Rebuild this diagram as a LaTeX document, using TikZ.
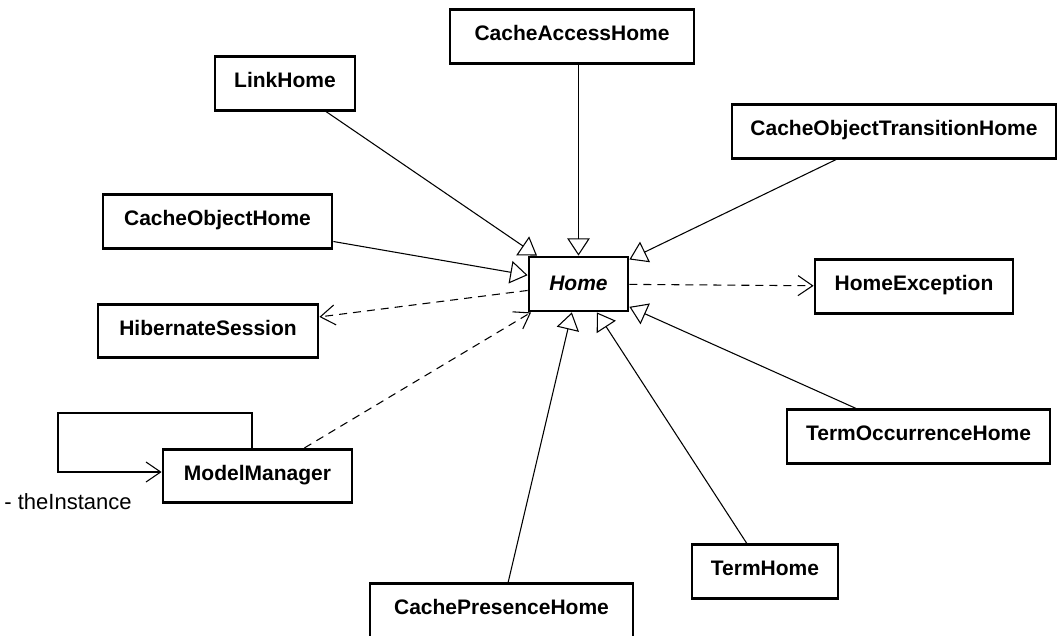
\documentclass[tikz,border=0pt]{standalone}
\usepackage{fontspec}
\setmainfont{Liberation Sans}
\usetikzlibrary{arrows.meta}
\begin{document}
\begin{tikzpicture}[x=0.75pt,y=-0.75pt,
  cls/.style={draw, line width=2.1pt, fill=white, inner xsep=0pt, inner ysep=0pt,
    font=\fontsize{15.75}{18}\selectfont\bfseries, text height=23pt, text depth=17pt},
  w/.style={minimum width=#1*0.75pt},
  gen/.style={line width=0.8pt, -{Triangle[open, length=13pt, width=17pt]}},
  dep/.style={line width=0.8pt, dash pattern=on 6pt off 4.5pt, -{Straight Barb[length=11pt, width=15pt]}},
  assoc/.style={line width=0.8pt, -{Straight Barb[length=11pt, width=15pt]}},
  rolelabel/.style={font=\fontsize{16.5}{19}\selectfont}
]
\useasboundingbox (0,0) rectangle (1059,635);

% classes
\node[cls, w=244] (cah) at (572,36.5) {CacheAccessHome};
\node[cls, w=140] (link) at (285,83.5) {LinkHome};
\node[cls, w=324] (coth) at (894,131.5) {CacheObjectTransitionHome};
\node[cls, w=229] (coh) at (217.5,221.5) {CacheObjectHome};
\node[cls, w=220] (hs) at (208,331) {HibernateSession};
\node[cls, w=198] (he) at (914,286.5) {HomeException};
\node[cls, w=99, text height=25pt, text depth=15.5pt,
  font=\fontsize{15.75}{18}\selectfont\bfseries\itshape] (home) at (578.5,284) {Home};
\node[cls, w=263] (toh) at (918.5,436.5) {TermOccurrenceHome};
\node[cls, w=146] (th) at (765,571.5) {TermHome};
\node[cls, w=263] (cph) at (501.5,610.5) {CachePresenceHome};
\node[cls, w=189] (mm) at (257.5,476) {ModelManager};

% generalisations
\draw[gen] (link) -- (home);
\draw[gen] (cah.south -| home.center) -- (home.north);
\draw[gen] (coth) -- (home);
\draw[gen] (coh) -- (home);
\draw[gen] (toh) -- (home);
\draw[gen] (th) -- (home);
\draw[gen] (cph) -- (home);

% dependencies
\draw[dep] (home) -- (he);
\draw[dep] (home) -- (hs);
\draw[dep] (mm) -- (home);

% singleton self-association
\coordinate (lt) at (252,413);
\coordinate (ll) at (58,413);
\coordinate (lb) at (58,472);
\draw[assoc] (lt |- mm.north) -- (lt) -- (ll) -- (lb) -- (lb -| mm.west);
\node[rolelabel] (role) at (68,502) {- theInstance};
\end{tikzpicture}
\end{document}
